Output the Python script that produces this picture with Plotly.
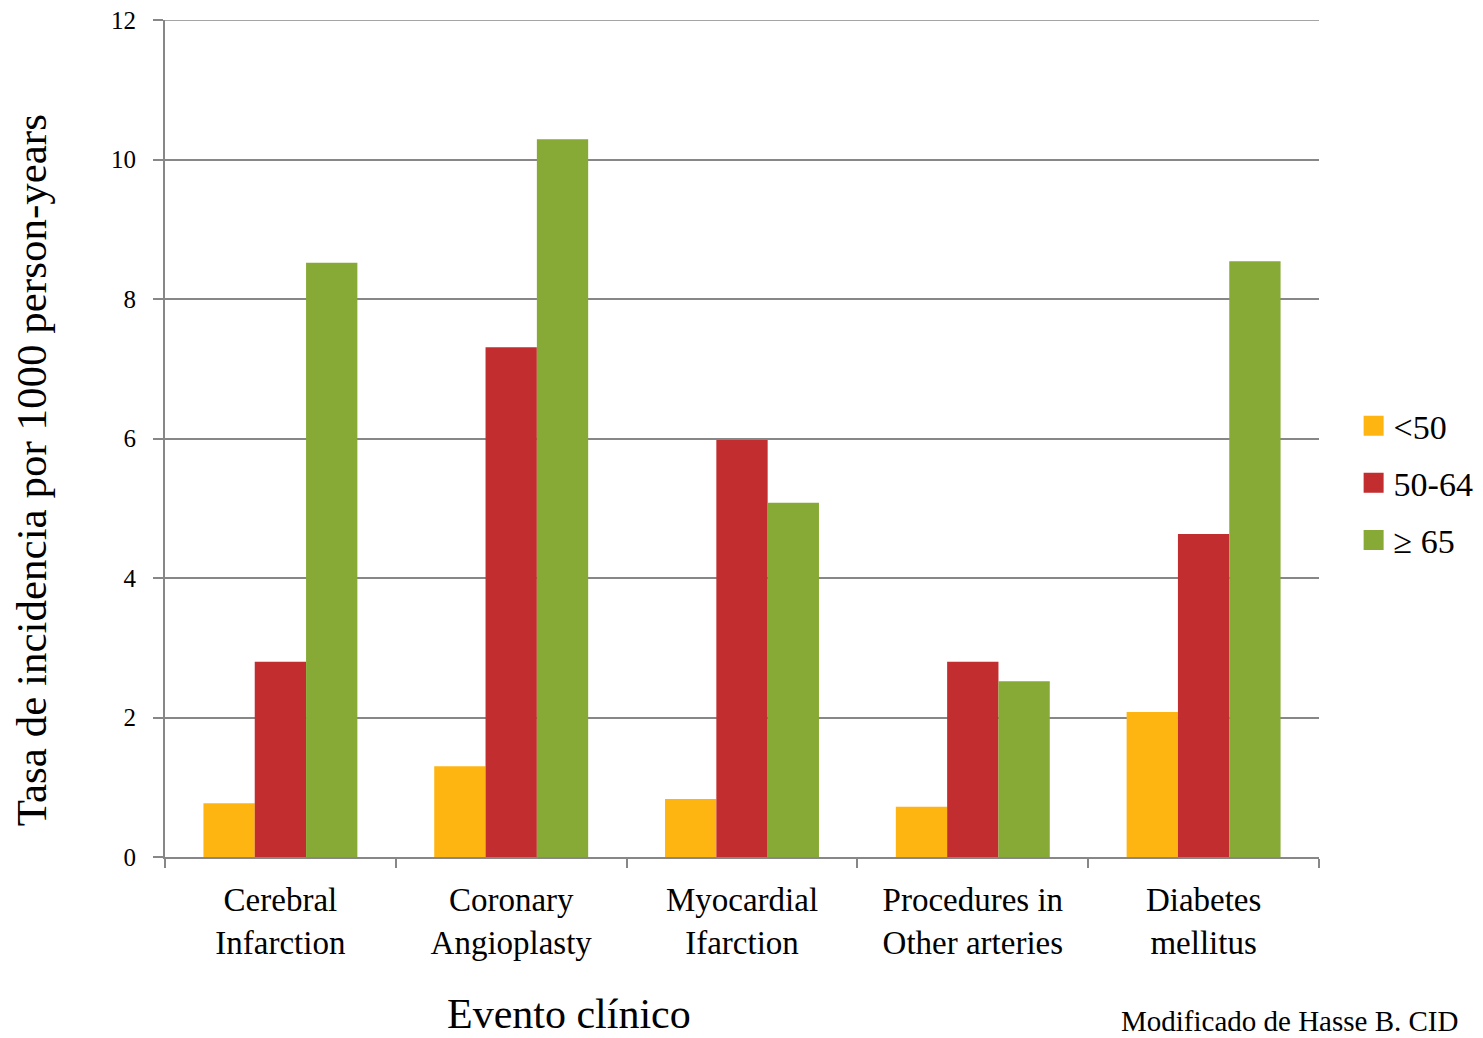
import plotly.graph_objects as go

# Incidence per 1000 person-years by clinical event and age group
categories = [
    "Cerebral<br>Infarction",
    "Coronary<br>Angioplasty",
    "Myocardial<br>Ifarction",
    "Procedures in<br>Other arteries",
    "Diabetes<br>mellitus",
]
under_50 = [0.77, 1.30, 0.83, 0.72, 2.08]
age_50_64 = [2.80, 7.31, 5.98, 2.80, 4.63]
age_65_plus = [8.52, 10.29, 5.08, 2.52, 8.54]

series_names = ["&lt;50", "50-64", "≥ 65"]
series_values = [under_50, age_50_64, age_65_plus]
colors = ["#FFB511", "#C22D2F", "#86AA35"]

y_ticks = [0, 2, 4, 6, 8, 10, 12]

FONT = "Liberation Serif"
GRID = "#878787"

fig = go.Figure()

for name, vals, col in zip(series_names, series_values, colors):
    fig.add_trace(go.Bar(
        x=categories, y=vals, name=name,
        marker=dict(color=col, line=dict(width=0)),
        showlegend=False,
    ))

# larger square swatches for the legend
for name, col in zip(series_names, colors):
    fig.add_trace(go.Scatter(
        x=[None], y=[None], name=name, mode="markers",
        marker=dict(symbol="square", size=16, color=col,
                    line=dict(color=col, width=4)),
        legendgroup=name,
    ))

fig.update_layout(
    width=1483, height=1038,
    margin=dict(l=165, r=164, t=20, b=181, autoexpand=False),
    paper_bgcolor="white", plot_bgcolor="white",
    barmode="group", bargap=0.333, bargroupgap=0,
    font=dict(family=FONT, color="black"),
    legend=dict(
        x=1.030, xanchor="left", y=0.5495, yanchor="top",
        font=dict(size=34, family=FONT),
        tracegroupgap=10, bgcolor="rgba(0,0,0,0)",
    ),
    xaxis=dict(
        type="category",
        showgrid=False,
        showline=True, linecolor=GRID, linewidth=2,
        ticks="outside", tickson="boundaries", ticklen=9,
        tickcolor=GRID, tickwidth=2,
        tickfont=dict(size=33, family=FONT),
        ticklabelstandoff=12,
    ),
    yaxis=dict(
        range=[0, 12], tickvals=y_ticks,
        showgrid=True, gridcolor=GRID, gridwidth=1.5,
        showline=True, linecolor=GRID, linewidth=2,
        zeroline=False,
        ticks="outside", ticklen=10, tickcolor=GRID, tickwidth=2,
        tickfont=dict(size=25, family=FONT),
        ticklabelstandoff=12,
    ),
)

# top gridline at the end of the value range
fig.add_shape(
    type="line", xref="paper", yref="y", x0=0, x1=1, y0=12, y1=12,
    line=dict(color=GRID, width=1.5), layer="below",
)

fig.add_annotation(
    text="Tasa de incidencia por 1000 person-years",
    xref="paper", yref="paper", x=-0.115, y=0.4624,
    xanchor="center", yanchor="middle", textangle=-90,
    showarrow=False, font=dict(size=43, family=FONT),
)
fig.add_annotation(
    text="Evento clínico",
    xref="paper", yref="paper", x=0.35, y=-0.188,
    xanchor="center", yanchor="middle",
    showarrow=False, font=dict(size=42, family=FONT),
)
fig.add_annotation(
    text="Modificado de Hasse B. CID",
    xref="paper", yref="paper", x=0.827, y=-0.196,
    xanchor="left", yanchor="middle",
    showarrow=False, font=dict(size=29, family=FONT),
)

fig.write_html("out.html")
